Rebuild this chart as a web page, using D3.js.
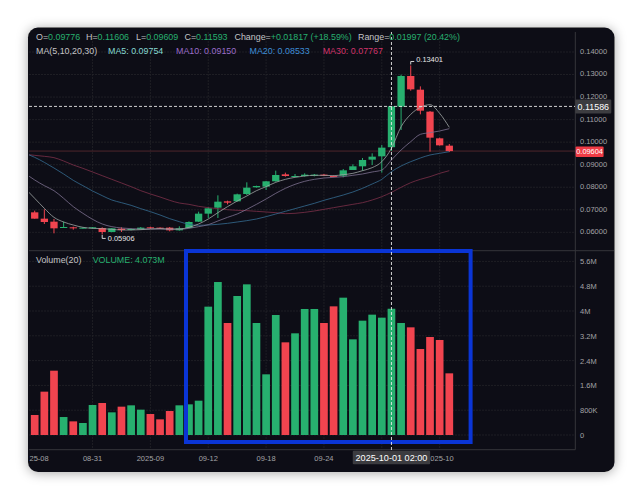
<!DOCTYPE html>
<html>
<head>
<meta charset="utf-8">
<script src="https://cdn.jsdelivr.net/npm/d3@7/dist/d3.min.js"></script>
<style>
html, body { margin: 0; padding: 0; background: #fff; }
svg { display: block; font-family: "Liberation Sans", Arial, sans-serif; }
</style>
</head>
<body>
<script>
// candles, oldest first
var opens = [.06886,.06605,.06472,.06191,.06221,.06176,.06176,.06191,.06014,.06161,.06102,.06132,.06221,.06206,.06206,.06087,.06191,.06472,.06827,.07093,.07374,.07374,.07699,.07995,.08025,.08262,.08572,.08469,.08498,.08513,.08557,.08498,.08513,.08765,.08928,.09223,.09371,.09776,.11575,.12935,.12328,.11353,.10169,.09844];
var highs = [.06960,.07019,.06590,.06472,.06250,.06221,.06235,.06221,.06191,.06221,.06176,.06235,.06250,.06221,.06235,.06265,.06487,.06916,.07108,.07640,.07404,.07715,.08217,.08069,.08276,.08735,.08647,.08587,.08617,.08587,.08587,.08528,.08809,.09017,.09297,.09504,.09874,.11606,.12994,.13401,.12476,.11382,.10199,.09918];
var lows = [.06605,.06369,.05954,.06191,.06117,.06161,.06161,.05906,.05999,.06014,.06087,.06117,.06146,.06146,.06043,.06073,.06176,.06457,.06635,.06635,.07241,.07359,.07655,.07980,.07877,.08247,.08469,.08469,.08469,.08483,.08498,.08439,.08439,.08765,.08735,.08987,.08646,.09609,.10539,.12284,.11234,.09578,.09844,.09559];
var closes = [.06605,.06457,.06176,.06235,.06176,.06206,.06221,.06014,.06176,.06102,.06146,.06206,.06176,.06161,.06087,.06176,.06457,.06827,.07064,.07359,.07315,.07685,.07981,.08055,.08262,.08543,.08498,.08498,.08557,.08557,.08528,.08469,.08750,.08928,.09208,.09356,.09756,.11593,.12935,.12343,.11397,.10199,.09859,.09604];
var volumes = [645,1398,2075,580,440,387,968,1032,731,914,957,817,677,505,774,957,989,1107,4140,4935,3613,4484,4860,3613,1957,3871,2989,3280,4065,4065,3613,4150,4430,3086,3688,3882,3785,4073,3613,3473,2774,3161,3065,1989];

// moving averages start one bar before the first visible candle
var ma5 = [.07951,.07507,.07064,.06664,.06457,.06324,.06221,.06176,.06161,.06132,.06102,.06102,.06117,.06147,.06161,.06147,.06147,.06221,.06369,.0659,.06871,.07138,.07389,.07611,.07847,.08025,.08217,.0835,.08439,.08498,.08528,.08528,.08513,.08557,.08616,.08735,.08868,.09134,.09726,.10687,.11234,.11544,.11663,.11278,.10657];
var ma10 = [.08616,.08321,.08069,.07847,.07507,.07138,.06842,.06576,.06369,.0625,.06191,.06161,.06147,.06147,.06147,.06132,.06132,.06176,.0625,.06339,.06502,.06664,.06812,.07019,.07241,.07478,.07729,.07951,.08128,.08262,.0835,.08409,.08439,.08469,.08528,.08587,.08676,.08764,.09208,.09652,.10021,.10347,.1042,.10495,.10598];
var ma20 = [.09504,.09326,.09104,.08853,.08587,.08306,.08069,.07833,.07626,.07433,.07315,.07197,.07049,.06916,.06768,.06605,.06472,.06354,.06309,.06324,.06354,.06398,.06457,.06516,.0659,.06694,.06812,.06931,.07049,.07167,.07285,.07419,.07537,.07655,.07788,.07951,.08143,.0835,.0869,.08942,.09134,.09297,.0943,.09504,.09578];
var ma30 = [.09459,.09415,.09371,.09312,.09164,.08986,.08838,.08676,.08513,.0835,.08188,.08025,.07847,.077,.07566,.07419,.073,.07241,.07152,.07093,.07049,.07004,.06975,.0696,.0693,.06901,.06871,.06827,.06842,.06886,.06945,.07019,.07093,.07167,.07241,.07315,.07433,.07581,.07773,.07995,.08202,.0835,.08469,.08616,.08735];

var priceTicks = [.06,.07,.08,.09,.10,.11,.12,.13,.14];
var volumeTicks = [0,800,1600,2400,3200,4000,4800,5600];
var volumeTickLabels = ['0','800K','1.6M','2.4M','3.2M','4M','4.8M','5.6M'];
// 0 and 42 are cut off in the picture, by the pane edge and by the cursor tag
var timeTickBars = [0,6,12,18,24,30,42];
var timeTickLabels = ['25-08','08-31','2025-09','09-12','09-18','09-24','025-10'];

var w = 641,
    h = 500,
    green = '#27b06f',
    red = '#f1444f',
    grey = '#a3a3a6',
    cursorBar = 37,
    cursorPrice = 0.11586,
    lastPrice = 0.09604;

var x = d3.scaleLinear().domain([0, 43]).range([34.7, 449.3]);
var yPrice = d3.scaleLinear().domain([0.06, 0.14]).range([232.3, 52]);
var yVol = d3.scaleLinear().domain([0, 5600]).range([435, 261.4]);

var svg = d3.select('body').append('svg').attr('width', w).attr('height', h);

var defs = svg.append('defs');
defs.append('clipPath').attr('id', 'plot')
    .append('rect').attr('x', 29).attr('y', 28).attr('width', 546).attr('height', 440);
var shadow = defs.append('filter').attr('id', 'shadow')
    .attr('x', '-10%').attr('y', '-10%').attr('width', '120%').attr('height', '120%');
shadow.append('feDropShadow').attr('dx', 0).attr('dy', 1).attr('stdDeviation', 6)
    .attr('flood-color', '#000').attr('flood-opacity', 0.35);

// card
svg.append('rect').attr('x', 28).attr('y', 27.5).attr('width', 586.5).attr('height', 444.5)
    .attr('rx', 10).attr('fill', '#111115').attr('filter', 'url(#shadow)');

// grid
var grid = svg.append('g').attr('stroke', '#232328').attr('stroke-width', 0.8).attr('stroke-dasharray', '2,1');
grid.selectAll('.gx').data([6,12,18,24,30,36,42]).enter().append('line')
    .attr('x1', function(d) { return x(d); }).attr('x2', function(d) { return x(d); })
    .attr('y1', 32).attr('y2', 449.7);
grid.selectAll('.gp').data(priceTicks).enter().append('line')
    .attr('x1', 29).attr('x2', 575)
    .attr('y1', function(d) { return yPrice(d); }).attr('y2', function(d) { return yPrice(d); });
grid.selectAll('.gv').data(volumeTicks).enter().append('line')
    .attr('x1', 29).attr('x2', 575)
    .attr('y1', function(d) { return yVol(d); }).attr('y2', function(d) { return yVol(d); });

// pane borders
var borderColor = '#36363b';
svg.append('line').attr('x1', 575.3).attr('x2', 575.3).attr('y1', 32).attr('y2', 449.7).attr('stroke', borderColor);
svg.append('line').attr('x1', 29).attr('x2', 614).attr('y1', 250.7).attr('y2', 250.7).attr('stroke', borderColor);
svg.append('line').attr('x1', 29).attr('x2', 575.3).attr('y1', 449.7).attr('y2', 449.7).attr('stroke', borderColor);

// last price line
svg.append('line').attr('x1', 29).attr('x2', 575)
    .attr('y1', yPrice(lastPrice)).attr('y2', yPrice(lastPrice))
    .attr('stroke', '#4f262c').attr('stroke-width', 1);

var plot = svg.append('g').attr('clip-path', 'url(#plot)');
var bars = d3.range(opens.length);

// candles
function candleColor(i) { return closes[i] >= opens[i] ? green : red; }
plot.selectAll('.wick').data(bars).enter().append('line')
    .attr('x1', function(i) { return x(i); }).attr('x2', function(i) { return x(i); })
    .attr('y1', function(i) { return yPrice(highs[i]); })
    .attr('y2', function(i) { return yPrice(lows[i]); })
    .attr('stroke', candleColor).attr('stroke-width', 1);
plot.selectAll('.body').data(bars).enter().append('rect')
    .attr('x', function(i) { return x(i) - 3.65; })
    .attr('width', 7.3)
    .attr('y', function(i) { return yPrice(Math.max(opens[i], closes[i])); })
    .attr('height', function(i) { return Math.max(1, Math.abs(yPrice(opens[i]) - yPrice(closes[i]))); })
    .attr('fill', candleColor);

// moving averages
var maLine = d3.line()
    .x(function(d, i) { return x(i - 1); })
    .y(function(d) { return yPrice(d); })
    .curve(d3.curveMonotoneX);
[[ma30, '#7c3049'], [ma20, '#356c92'], [ma10, '#7d7190'], [ma5, '#a0a6a4']].forEach(function(m) {
    plot.append('path').attr('d', maLine(m[0])).attr('fill', 'none')
        .attr('stroke', m[1]).attr('stroke-width', 0.8);
});

// volume
plot.selectAll('.vol').data(bars).enter().append('rect')
    .attr('x', function(i) { return x(i) - 3.85; })
    .attr('width', 7.7)
    .attr('y', function(i) { return yVol(volumes[i]); })
    .attr('height', function(i) { return yVol(0) - yVol(volumes[i]); })
    .attr('fill', candleColor);

// axes
function styleAxis(g) {
    g.select('.domain').remove();
    g.selectAll('.tick line').remove();
    g.selectAll('.tick text').attr('fill', grey).attr('font-size', 7.5)
        .attr('font-family', '"Liberation Sans", Arial, sans-serif');
}
svg.append('g').attr('transform', 'translate(580,0)')
    .call(d3.axisRight(yPrice).tickValues(priceTicks).tickSize(0).tickPadding(0)
        .tickFormat(d3.format('.5f')))
    .call(styleAxis)
    .selectAll('.tick text').attr('dy', '0.32em').attr('y', -1);
svg.append('g').attr('transform', 'translate(580,0)')
    .call(d3.axisRight(yVol).tickValues(volumeTicks).tickSize(0).tickPadding(0)
        .tickFormat(function(d, i) { return volumeTickLabels[i]; }))
    .call(styleAxis);

svg.append('g').selectAll('text').data(timeTickBars).enter().append('text')
    .attr('x', function(d) { return d === 0 || d === 42 ? x(d) + 14 : x(d); })
    .attr('y', 460.7)
    .attr('text-anchor', function(d) { return d === 0 || d === 42 ? 'end' : 'middle'; })
    .attr('fill', grey).attr('font-size', 7.5)
    .text(function(d, i) { return timeTickLabels[i]; });

// highlight box
svg.append('rect').attr('x', 186).attr('y', 251).attr('width', 284.6).attr('height', 191)
    .attr('fill', 'none').attr('stroke', '#0a35d6').attr('stroke-width', 4);

// crosshair
var cross = svg.append('g').attr('stroke', '#e8e8e8').attr('stroke-width', 0.9).attr('stroke-dasharray', '3,2');
cross.append('line').attr('x1', 29).attr('x2', 575)
    .attr('y1', yPrice(cursorPrice)).attr('y2', yPrice(cursorPrice));
cross.append('line').attr('x1', x(cursorBar)).attr('x2', x(cursorBar)).attr('y1', 32).attr('y2', 450);

// price tags
function tag(bx, by, bw, bh, fill, label, size) {
    svg.append('rect').attr('x', bx).attr('y', by).attr('width', bw).attr('height', bh)
        .attr('rx', 1).attr('fill', fill);
    svg.append('text').attr('x', bx + bw / 2).attr('y', by + bh / 2).attr('dy', '0.35em')
        .attr('text-anchor', 'middle').attr('fill', '#fff').attr('font-size', size).text(label);
}
tag(575.3, yPrice(cursorPrice) - 7, 36, 14, '#3c3c40', d3.format('.5f')(cursorPrice), 8.9);
tag(575.6, yPrice(lastPrice) - 4.5, 28, 10.5, '#ef3b45', d3.format('.5f')(lastPrice), 7.4);
tag(x(cursorBar) - 38.7, 450.7, 77.4, 13.6, '#3c3c40', '2025-10-01 02:00', 9.1);

// high / low markers
var highBar = 39, lowBar = 7;
svg.append('path')
    .attr('d', 'M' + x(highBar) + ',' + (yPrice(highs[highBar]) - 1) + 'v-3h3.5')
    .attr('fill', 'none').attr('stroke', '#e8e8e8').attr('stroke-width', 0.9);
svg.append('text').attr('x', x(highBar) + 5.5).attr('y', yPrice(highs[highBar]) - 3.5)
    .attr('fill', '#e8e8e8').attr('font-size', 7.4).text('0.13401');
svg.append('path')
    .attr('d', 'M' + x(lowBar) + ',' + (yPrice(lows[lowBar]) + 0.5) + 'v3.5h3.5')
    .attr('fill', 'none').attr('stroke', '#e8e8e8').attr('stroke-width', 0.9);
svg.append('text').attr('x', x(lowBar) + 5.6).attr('y', yPrice(lows[lowBar]) + 6.3)
    .attr('fill', '#e8e8e8').attr('font-size', 7.4).text('0.05906');

// legends
var labelColor = '#c4c4c6';
function legend(lx, ly, parts) {
    var t = svg.append('text').attr('x', lx).attr('y', ly).attr('font-size', 8.9);
    parts.forEach(function(p) { t.append('tspan').attr('fill', p[1]).text(p[0]); });
}
legend(36, 40.2, [['O=', labelColor], ['0.09776', green]]);
legend(86, 40.2, [['H=', labelColor], ['0.11606', green]]);
legend(136, 40.2, [['L=', labelColor], ['0.09609', green]]);
legend(184.5, 40.2, [['C=', labelColor], ['0.11593', green]]);
legend(234.5, 40.2, [['Change=', labelColor], ['+0.01817 (+18.59%)', green]]);
legend(358, 40.2, [['Range=', labelColor], ['0.01997 (20.42%)', green]]);
legend(36, 53.9, [['MA(5,10,20,30)', labelColor]]);
legend(108, 53.9, [['MA5: 0.09754', '#86d8d2']]);
legend(176, 53.9, [['MA10: 0.09150', '#9a6cc8']]);
legend(249.5, 53.9, [['MA20: 0.08533', '#3f8ed6']]);
legend(322.7, 53.9, [['MA30: 0.07767', '#d2346b']]);
legend(36, 263.2, [['Volume(20)', labelColor]]);
legend(92.7, 263.2, [['VOLUME: 4.073M', green]]);
</script>
</body>
</html>
